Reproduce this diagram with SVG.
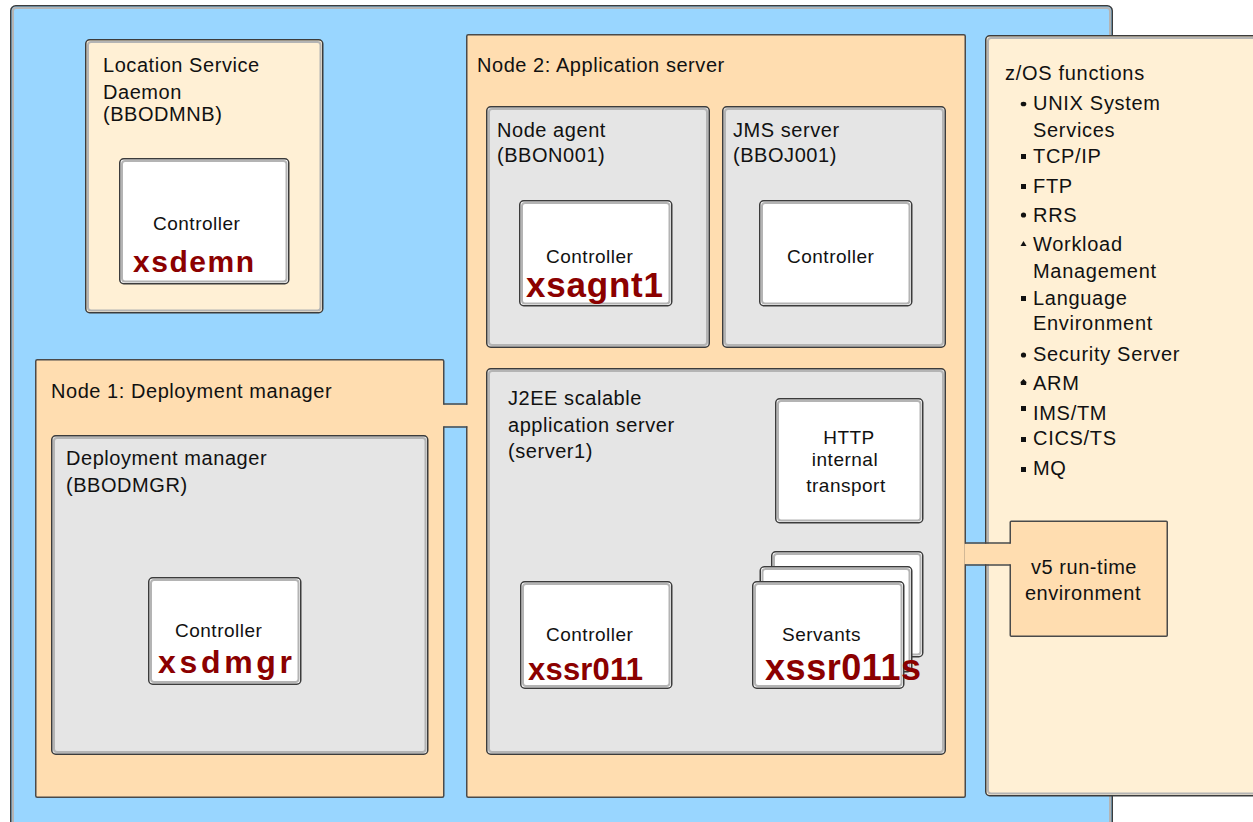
<svg xmlns="http://www.w3.org/2000/svg" width="1253" height="822" viewBox="0 0 1253 822">
  <style>
    .lbl { font-family: "Liberation Sans", Arial, sans-serif; font-size: 20px; letter-spacing: 0.55px; fill: #111; }
    .zl { font-family: "Liberation Sans", Arial, sans-serif; font-size: 20px; letter-spacing: 0.7px; fill: #111; }
    .ctl { font-family: "Liberation Sans", Arial, sans-serif; font-size: 19px; letter-spacing: 0.5px; fill: #111; }
    .mid { text-anchor: middle; }
    .job { font-family: "Liberation Sans", Arial, sans-serif; font-weight: bold; fill: #8b0000; }
    .blue { fill: #99d6ff; stroke: #3c3c3c; stroke-width: 1.5; }
    .peach { fill: #ffddb0; stroke: #4a4a4a; stroke-width: 1.5; }
    .cream { fill: #fff0d5; stroke: #3c3c3c; stroke-width: 1.5; }
    .gray { fill: #e5e5e5; stroke: #3c3c3c; stroke-width: 1.5; }
    .card { fill: #ffffff; stroke: #3c3c3c; stroke-width: 1.5; }
    .bev { fill: none; stroke: #b4b4b4; stroke-width: 2; }
    .band { fill: #ffddb0; stroke: none; }
    .bandedge { stroke: #4a4a4a; stroke-width: 1.5; fill: none; }
    .dot { fill: #111; }
  </style>

  <!-- z/OS system image background -->
  <g id="system">
    <rect class="blue" x="10.75" y="5.75" width="1101.5" height="830" rx="5"/>
    <rect class="bev" x="13" y="8" width="1097" height="830" rx="3"/>
  </g>

  <!-- Location Service Daemon -->
  <g id="daemon">
    <rect class="cream" x="85.75" y="39.75" width="237" height="273" rx="4"/>
    <rect class="bev" x="88" y="42" width="232.5" height="268.5" rx="3"/>
    <text class="lbl" x="103" y="72">Location Service</text>
    <text class="lbl" x="103" y="99">Daemon</text>
    <text class="lbl" x="103" y="121">(BBODMNB)</text>
    <g id="daemon-controller">
      <rect class="card" x="119.75" y="158.75" width="169" height="125" rx="4"/>
      <rect class="bev" x="122" y="161" width="164.5" height="120.5" rx="3"/>
      <text class="ctl" x="153" y="230">Controller</text>
      <text class="job" x="133" y="272" font-size="30" textLength="121" lengthAdjust="spacing">xsdemn</text>
    </g>
  </g>

  <!-- Node 1 -->
  <g id="node1">
    <rect class="peach" x="35.75" y="359.75" width="408" height="437.5" rx="1.5"/>
    <text class="lbl" x="51" y="398">Node 1: Deployment manager</text>
    <g id="dmgr">
      <rect class="gray" x="51.75" y="435.75" width="376" height="318.5" rx="4"/>
      <rect class="bev" x="54" y="438" width="371.5" height="314" rx="3"/>
      <text class="lbl" x="66" y="465">Deployment manager</text>
      <text class="lbl" x="66" y="492">(BBODMGR)</text>
      <g id="dmgr-controller">
        <rect class="card" x="148.75" y="577.75" width="152" height="106.5" rx="4"/>
        <rect class="bev" x="151" y="580" width="147.5" height="102" rx="3"/>
        <text class="ctl" x="175" y="637">Controller</text>
        <text class="job" x="158" y="673" font-size="32" textLength="134" lengthAdjust="spacing">xsdmgr</text>
      </g>
    </g>
  </g>

  <!-- Node 2 -->
  <g id="node2">
    <rect class="peach" x="466.75" y="34.75" width="498.5" height="762.5" rx="1.5"/>
    <text class="lbl" x="477" y="72">Node 2: Application server</text>

    <g id="nodeagent">
      <rect class="gray" x="486.75" y="106.75" width="222.5" height="240.5" rx="4"/>
      <rect class="bev" x="489" y="109" width="218" height="236" rx="3"/>
      <text class="lbl" x="497" y="137">Node agent</text>
      <text class="lbl" x="497" y="162">(BBON001)</text>
      <g id="nodeagent-controller">
        <rect class="card" x="519.75" y="200.75" width="152" height="105" rx="4"/>
        <rect class="bev" x="522" y="203" width="147.5" height="100.5" rx="3"/>
        <text class="ctl" x="546" y="263">Controller</text>
        <text class="job" x="526" y="297" font-size="35" textLength="137" lengthAdjust="spacing">xsagnt1</text>
      </g>
    </g>

    <g id="jms">
      <rect class="gray" x="722.75" y="106.75" width="222.5" height="240.5" rx="4"/>
      <rect class="bev" x="725" y="109" width="218" height="236" rx="3"/>
      <text class="lbl" x="733" y="137">JMS server</text>
      <text class="lbl" x="733" y="162">(BBOJ001)</text>
      <g id="jms-controller">
        <rect class="card" x="759.75" y="200.75" width="152" height="105" rx="4"/>
        <rect class="bev" x="762" y="203" width="147.5" height="100.5" rx="3"/>
        <text class="ctl" x="787" y="263">Controller</text>
      </g>
    </g>

    <g id="server1">
      <rect class="gray" x="486.75" y="368.75" width="458.5" height="385.5" rx="4"/>
      <rect class="bev" x="489" y="371" width="454" height="381" rx="3"/>
      <text class="lbl" x="508" y="405">J2EE scalable</text>
      <text class="lbl" x="508" y="432">application server</text>
      <text class="lbl" x="508" y="458">(server1)</text>

      <g id="http">
        <rect class="card" x="775.75" y="398.75" width="147" height="124" rx="4"/>
        <rect class="bev" x="778" y="401" width="142.5" height="119.5" rx="3"/>
        <text class="ctl mid" x="849" y="444">HTTP</text>
        <text class="ctl mid" x="845" y="466">internal</text>
        <text class="ctl mid" x="846" y="492">transport</text>
      </g>

      <g id="server1-controller">
        <rect class="card" x="520.75" y="581.75" width="151" height="106.5" rx="4"/>
        <rect class="bev" x="523" y="584" width="146.5" height="102" rx="3"/>
        <text class="ctl" x="546" y="641">Controller</text>
        <text class="job" x="528" y="680" font-size="31" textLength="115" lengthAdjust="spacing">xssr011</text>
      </g>

      <g id="servants">
        <rect class="card" x="771.75" y="551.75" width="151" height="105" rx="4"/>
        <rect class="bev" x="774" y="554" width="146.5" height="100.5" rx="3"/>
        <rect class="card" x="760.25" y="566.75" width="151.5" height="105" rx="4"/>
        <rect class="bev" x="762.5" y="569" width="147" height="100.5" rx="3"/>
        <rect class="card" x="752.75" y="581.75" width="151" height="106.5" rx="4"/>
        <rect class="bev" x="755" y="584" width="146.5" height="102" rx="3"/>
        <text class="ctl" x="782" y="641">Servants</text>
        <text class="job" x="765" y="680" font-size="36" textLength="156" lengthAdjust="spacing">xssr011s</text>
      </g>
    </g>
  </g>

  <!-- z/OS functions -->
  <g id="zos">
    <rect class="cream" x="985.75" y="35.75" width="280" height="760" rx="4"/>
    <rect class="bev" x="988" y="38" width="280" height="755.5" rx="3"/>
    <text class="zl" x="1005" y="80" font-size="21">z/OS functions</text>
    <g id="zos-list">
      <ellipse class="dot" cx="1023.5" cy="104" rx="2.8" ry="2.3"/>
      <text class="zl" x="1033" y="110">UNIX System</text>
      <text class="zl" x="1033" y="137">Services</text>
      <rect class="dot" x="1021" y="154" width="5" height="5"/>
      <text class="zl" x="1033" y="163">TCP/IP</text>
      <rect class="dot" x="1021" y="184" width="5" height="5"/>
      <text class="zl" x="1033" y="193">FTP</text>
      <ellipse class="dot" cx="1023.5" cy="215" rx="2.6" ry="2.6"/>
      <text class="zl" x="1033" y="222">RRS</text>
      <polygon class="dot" points="1023.5,241 1026.5,246 1020.5,246"/>
      <text class="zl" x="1033" y="251">Workload</text>
      <text class="zl" x="1033" y="278">Management</text>
      <rect class="dot" x="1021" y="296" width="5" height="5"/>
      <text class="zl" x="1033" y="305">Language</text>
      <text class="zl" x="1033" y="330">Environment</text>
      <ellipse class="dot" cx="1023.5" cy="355" rx="2.6" ry="2.6"/>
      <text class="zl" x="1033" y="361">Security Server</text>
      <polygon class="dot" points="1023.5,379 1026.5,382 1026,385 1021,385 1020.5,382"/>
      <text class="zl" x="1033" y="390">ARM</text>
      <rect class="dot" x="1021" y="406" width="5" height="5"/>
      <text class="zl" x="1033" y="420">IMS/TM</text>
      <rect class="dot" x="1021" y="437" width="5" height="5"/>
      <text class="zl" x="1033" y="445">CICS/TS</text>
      <rect class="dot" x="1021" y="467" width="5" height="5"/>
      <text class="zl" x="1033" y="475">MQ</text>
    </g>
  </g>

  <!-- v5 run-time environment -->
  <g id="runtime">
    <rect class="peach" x="1010.25" y="521.25" width="157" height="115" rx="1"/>
    <text class="lbl mid" x="1084" y="574">v5 run-time</text>
    <text class="lbl mid" x="1083" y="600">environment</text>
  </g>

  <!-- connectors: bands joining the nodes to the runtime -->
  <g id="connectors">
    <rect class="band" x="443" y="404.75" width="25" height="21.5"/>
    <path class="bandedge" d="M443.75 404 H467.25 M443.75 427 H467.25"/>
    <rect class="band" x="964.5" y="543.75" width="47" height="20.5"/>
    <path class="bandedge" d="M965.25 543 H1010.25 M965.25 565 H1010.25"/>
  </g>
</svg>
